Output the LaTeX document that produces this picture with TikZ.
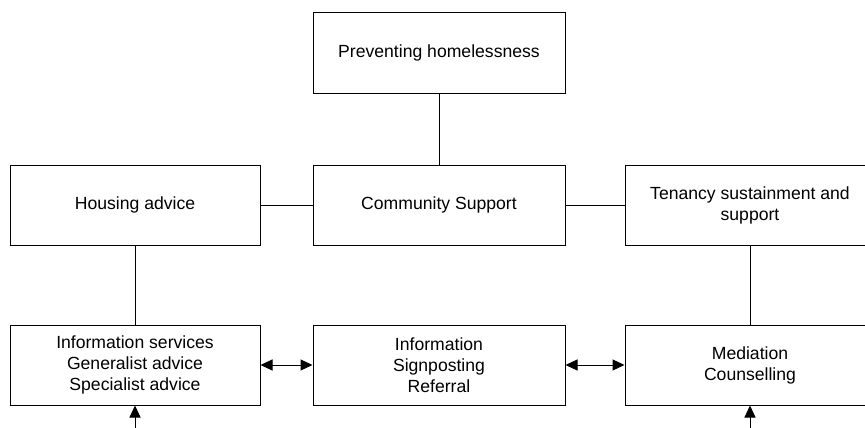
\documentclass[tikz,border=0pt]{standalone}
\usepackage{fontspec}
\setmainfont{Liberation Sans}
\usetikzlibrary{arrows.meta}
\begin{document}
\begin{tikzpicture}[x=1pt,y=-1pt,
  box/.style={draw,line width=1pt,rectangle,minimum height=80pt,align=center,
    font=\fontsize{17.6}{21}\selectfont,inner sep=0pt},
  lnk/.style={line width=1pt},
  tip/.style={Triangle[length=12pt,width=11pt]},
  arr/.style={line width=1pt,-{Triangle[length=12pt,width=11pt]}},
  darr/.style={line width=1pt,{Triangle[length=12pt,width=11pt]}-{Triangle[length=12pt,width=11pt]}}]
\useasboundingbox (0,0) rectangle (865,428);
\clip (0,0) rectangle (865,428);
\node[box,minimum width=252pt] (top) at (439,53) {Preventing homelessness};
\node[box,minimum width=250pt] (house) at (135,205) {Housing advice};
\node[box,minimum width=252pt] (comm) at (439,205) {Community Support};
\node[box,minimum width=250pt] (ten) at (750,205) {Tenancy sustainment and\\support};
\node[box,minimum width=250pt] (info) at (135,365) {Information services\\Generalist advice\\Specialist advice};
\node[box,minimum width=252pt] (sign) at (439,365) {Information\\Signposting\\Referral};
\node[box,minimum width=250pt] (med) at (750,365) {Mediation\\Counselling};
\coordinate (inL) at (135,440);
\coordinate (inR) at (750,440);
\draw[lnk] (top) -- (comm);
\draw[lnk] (house) -- (comm);
\draw[lnk] (comm) -- (ten);
\draw[lnk] (house) -- (info);
\draw[lnk] (ten) -- (med);
\draw[darr] (info) -- (sign);
\draw[darr] (sign) -- (med);
\draw[arr] (inL) -- (info.south);
\draw[arr] (inR) -- (med.south);
\end{tikzpicture}
\end{document}
